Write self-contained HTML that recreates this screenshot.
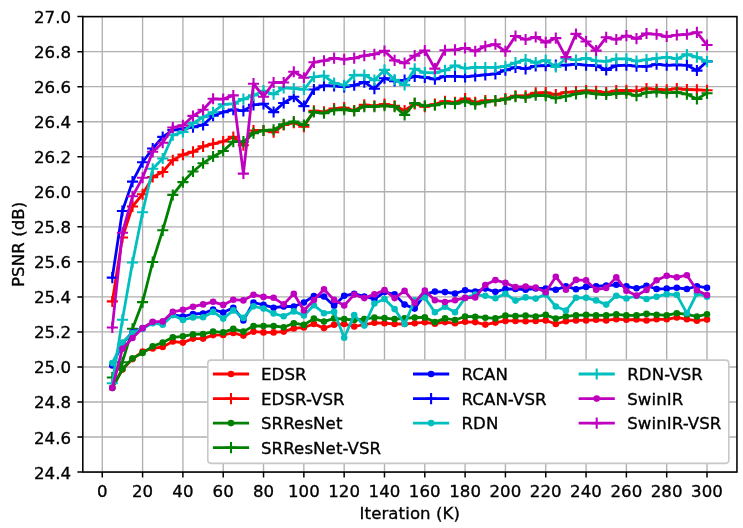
<!DOCTYPE html><html><head><meta charset="utf-8"><title>PSNR vs Iteration</title><style>html,body{margin:0;padding:0;background:#fff;overflow:hidden}svg{display:block}text{font-family:"DejaVu Sans","Liberation Sans",sans-serif;font-size:16.600px;fill:#000;stroke:#000;stroke-width:0.33px;letter-spacing:0.08px}</style></head><body>
<svg width="743" height="528" viewBox="0 0 743 528">
<rect width="743" height="528" fill="#fff"/>
<path d="M102.27 16.60V472.05M142.59 16.60V472.05M182.90 16.60V472.05M223.22 16.60V472.05M263.53 16.60V472.05M303.85 16.60V472.05M344.17 16.60V472.05M384.48 16.60V472.05M424.80 16.60V472.05M465.11 16.60V472.05M505.43 16.60V472.05M545.75 16.60V472.05M586.06 16.60V472.05M626.38 16.60V472.05M666.69 16.60V472.05M707.01 16.60V472.05M82.80 472.05H736.95M82.80 437.02H736.95M82.80 401.98H736.95M82.80 366.95H736.95M82.80 331.91H736.95M82.80 296.88H736.95M82.80 261.84H736.95M82.80 226.81H736.95M82.80 191.77H736.95M82.80 156.74H736.95M82.80 121.70H736.95M82.80 86.67H736.95M82.80 51.63H736.95M82.80 16.60H736.95" stroke="#b0b0b0" stroke-width="1.35" fill="none"/>
<g fill="none" stroke-linejoin="round" stroke-linecap="square">
<polyline stroke="#ff0000" stroke-width="2.78" points="112.3,387.6 122.4,369.6 132.5,359.1 142.6,351.5 152.7,348.4 162.7,347.0 172.8,341.5 182.9,342.6 193.0,338.6 203.1,338.6 213.1,335.1 223.2,334.9 233.3,333.0 243.4,335.6 253.5,331.6 263.5,332.4 273.6,332.4 283.7,331.6 293.8,328.4 303.9,327.5 313.9,323.9 324.0,328.1 334.1,324.7 344.2,324.0 354.2,326.5 364.3,324.7 374.4,322.8 384.5,323.2 394.6,324.0 404.6,324.0 414.7,323.2 424.8,322.3 434.9,323.7 445.0,322.1 455.0,323.3 465.1,321.8 475.2,322.1 485.3,324.6 495.4,322.6 505.4,320.9 515.5,320.9 525.6,321.2 535.7,320.9 545.7,320.4 555.8,324.0 565.9,321.1 576.0,320.4 586.1,320.4 596.1,319.8 606.2,320.4 616.3,319.1 626.4,319.8 636.5,319.5 646.5,320.5 656.6,319.3 666.7,319.3 676.8,317.4 686.9,319.3 696.9,320.7 707.0,319.6"/>
<path fill="#ff0000" stroke="none" d="M109.0 387.6a3.30 3.30 0 1 0 6.60 0a3.30 3.30 0 1 0 -6.60 0zM119.1 369.6a3.30 3.30 0 1 0 6.60 0a3.30 3.30 0 1 0 -6.60 0zM129.2 359.1a3.30 3.30 0 1 0 6.60 0a3.30 3.30 0 1 0 -6.60 0zM139.3 351.5a3.30 3.30 0 1 0 6.60 0a3.30 3.30 0 1 0 -6.60 0zM149.4 348.4a3.30 3.30 0 1 0 6.60 0a3.30 3.30 0 1 0 -6.60 0zM159.4 347.0a3.30 3.30 0 1 0 6.60 0a3.30 3.30 0 1 0 -6.60 0zM169.5 341.5a3.30 3.30 0 1 0 6.60 0a3.30 3.30 0 1 0 -6.60 0zM179.6 342.6a3.30 3.30 0 1 0 6.60 0a3.30 3.30 0 1 0 -6.60 0zM189.7 338.6a3.30 3.30 0 1 0 6.60 0a3.30 3.30 0 1 0 -6.60 0zM199.8 338.6a3.30 3.30 0 1 0 6.60 0a3.30 3.30 0 1 0 -6.60 0zM209.8 335.1a3.30 3.30 0 1 0 6.60 0a3.30 3.30 0 1 0 -6.60 0zM219.9 334.9a3.30 3.30 0 1 0 6.60 0a3.30 3.30 0 1 0 -6.60 0zM230.0 333.0a3.30 3.30 0 1 0 6.60 0a3.30 3.30 0 1 0 -6.60 0zM240.1 335.6a3.30 3.30 0 1 0 6.60 0a3.30 3.30 0 1 0 -6.60 0zM250.2 331.6a3.30 3.30 0 1 0 6.60 0a3.30 3.30 0 1 0 -6.60 0zM260.2 332.4a3.30 3.30 0 1 0 6.60 0a3.30 3.30 0 1 0 -6.60 0zM270.3 332.4a3.30 3.30 0 1 0 6.60 0a3.30 3.30 0 1 0 -6.60 0zM280.4 331.6a3.30 3.30 0 1 0 6.60 0a3.30 3.30 0 1 0 -6.60 0zM290.5 328.4a3.30 3.30 0 1 0 6.60 0a3.30 3.30 0 1 0 -6.60 0zM300.6 327.5a3.30 3.30 0 1 0 6.60 0a3.30 3.30 0 1 0 -6.60 0zM310.6 323.9a3.30 3.30 0 1 0 6.60 0a3.30 3.30 0 1 0 -6.60 0zM320.7 328.1a3.30 3.30 0 1 0 6.60 0a3.30 3.30 0 1 0 -6.60 0zM330.8 324.7a3.30 3.30 0 1 0 6.60 0a3.30 3.30 0 1 0 -6.60 0zM340.9 324.0a3.30 3.30 0 1 0 6.60 0a3.30 3.30 0 1 0 -6.60 0zM350.9 326.5a3.30 3.30 0 1 0 6.60 0a3.30 3.30 0 1 0 -6.60 0zM361.0 324.7a3.30 3.30 0 1 0 6.60 0a3.30 3.30 0 1 0 -6.60 0zM371.1 322.8a3.30 3.30 0 1 0 6.60 0a3.30 3.30 0 1 0 -6.60 0zM381.2 323.2a3.30 3.30 0 1 0 6.60 0a3.30 3.30 0 1 0 -6.60 0zM391.3 324.0a3.30 3.30 0 1 0 6.60 0a3.30 3.30 0 1 0 -6.60 0zM401.3 324.0a3.30 3.30 0 1 0 6.60 0a3.30 3.30 0 1 0 -6.60 0zM411.4 323.2a3.30 3.30 0 1 0 6.60 0a3.30 3.30 0 1 0 -6.60 0zM421.5 322.3a3.30 3.30 0 1 0 6.60 0a3.30 3.30 0 1 0 -6.60 0zM431.6 323.7a3.30 3.30 0 1 0 6.60 0a3.30 3.30 0 1 0 -6.60 0zM441.7 322.1a3.30 3.30 0 1 0 6.60 0a3.30 3.30 0 1 0 -6.60 0zM451.7 323.3a3.30 3.30 0 1 0 6.60 0a3.30 3.30 0 1 0 -6.60 0zM461.8 321.8a3.30 3.30 0 1 0 6.60 0a3.30 3.30 0 1 0 -6.60 0zM471.9 322.1a3.30 3.30 0 1 0 6.60 0a3.30 3.30 0 1 0 -6.60 0zM482.0 324.6a3.30 3.30 0 1 0 6.60 0a3.30 3.30 0 1 0 -6.60 0zM492.1 322.6a3.30 3.30 0 1 0 6.60 0a3.30 3.30 0 1 0 -6.60 0zM502.1 320.9a3.30 3.30 0 1 0 6.60 0a3.30 3.30 0 1 0 -6.60 0zM512.2 320.9a3.30 3.30 0 1 0 6.60 0a3.30 3.30 0 1 0 -6.60 0zM522.3 321.2a3.30 3.30 0 1 0 6.60 0a3.30 3.30 0 1 0 -6.60 0zM532.4 320.9a3.30 3.30 0 1 0 6.60 0a3.30 3.30 0 1 0 -6.60 0zM542.4 320.4a3.30 3.30 0 1 0 6.60 0a3.30 3.30 0 1 0 -6.60 0zM552.5 324.0a3.30 3.30 0 1 0 6.60 0a3.30 3.30 0 1 0 -6.60 0zM562.6 321.1a3.30 3.30 0 1 0 6.60 0a3.30 3.30 0 1 0 -6.60 0zM572.7 320.4a3.30 3.30 0 1 0 6.60 0a3.30 3.30 0 1 0 -6.60 0zM582.8 320.4a3.30 3.30 0 1 0 6.60 0a3.30 3.30 0 1 0 -6.60 0zM592.8 319.8a3.30 3.30 0 1 0 6.60 0a3.30 3.30 0 1 0 -6.60 0zM602.9 320.4a3.30 3.30 0 1 0 6.60 0a3.30 3.30 0 1 0 -6.60 0zM613.0 319.1a3.30 3.30 0 1 0 6.60 0a3.30 3.30 0 1 0 -6.60 0zM623.1 319.8a3.30 3.30 0 1 0 6.60 0a3.30 3.30 0 1 0 -6.60 0zM633.2 319.5a3.30 3.30 0 1 0 6.60 0a3.30 3.30 0 1 0 -6.60 0zM643.2 320.5a3.30 3.30 0 1 0 6.60 0a3.30 3.30 0 1 0 -6.60 0zM653.3 319.3a3.30 3.30 0 1 0 6.60 0a3.30 3.30 0 1 0 -6.60 0zM663.4 319.3a3.30 3.30 0 1 0 6.60 0a3.30 3.30 0 1 0 -6.60 0zM673.5 317.4a3.30 3.30 0 1 0 6.60 0a3.30 3.30 0 1 0 -6.60 0zM683.6 319.3a3.30 3.30 0 1 0 6.60 0a3.30 3.30 0 1 0 -6.60 0zM693.6 320.7a3.30 3.30 0 1 0 6.60 0a3.30 3.30 0 1 0 -6.60 0zM703.7 319.6a3.30 3.30 0 1 0 6.60 0a3.30 3.30 0 1 0 -6.60 0z"/>
<polyline stroke="#ff0000" stroke-width="2.78" points="112.3,301.4 122.4,237.5 132.5,206.5 142.6,194.2 152.7,177.1 162.7,172.0 172.8,160.2 182.9,154.6 193.0,151.8 203.1,146.4 213.1,143.8 223.2,141.5 233.3,136.9 243.4,145.2 253.5,130.5 263.5,130.5 273.6,132.2 283.7,125.0 293.8,122.8 303.9,126.8 313.9,110.8 324.0,111.9 334.1,108.6 344.2,107.7 354.2,110.5 364.3,104.9 374.4,105.8 384.5,104.2 394.6,105.8 404.6,110.5 414.7,103.8 424.8,106.6 434.9,104.2 445.0,101.4 455.0,102.3 465.1,98.6 475.2,102.3 485.3,100.5 495.4,101.0 505.4,98.6 515.5,95.8 525.6,95.8 535.7,92.8 545.7,92.6 555.8,94.6 565.9,92.3 576.0,91.6 586.1,90.7 596.1,91.2 606.2,92.6 616.3,90.7 626.4,90.3 636.5,91.0 646.5,88.6 656.6,89.3 666.7,89.8 676.8,88.6 686.9,89.5 696.9,89.8 707.0,90.3"/>
<path stroke="#ff0000" stroke-width="2.08" stroke-linecap="butt" d="M106.8 301.4h11.10M112.3 295.9v11.10M116.9 237.5h11.10M122.4 231.9v11.10M127.0 206.5h11.10M132.5 200.9v11.10M137.0 194.2h11.10M142.6 188.7v11.10M147.1 177.1h11.10M152.7 171.5v11.10M157.2 172.0h11.10M162.7 166.4v11.10M167.3 160.2h11.10M172.8 154.7v11.10M177.4 154.6h11.10M182.9 149.1v11.10M187.4 151.8h11.10M193.0 146.3v11.10M197.5 146.4h11.10M203.1 140.9v11.10M207.6 143.8h11.10M213.1 138.2v11.10M217.7 141.5h11.10M223.2 135.9v11.10M227.7 136.9h11.10M233.3 131.4v11.10M237.8 145.2h11.10M243.4 139.6v11.10M247.9 130.5h11.10M253.5 124.9v11.10M258.0 130.5h11.10M263.5 124.9v11.10M268.1 132.2h11.10M273.6 126.7v11.10M278.1 125.0h11.10M283.7 119.5v11.10M288.2 122.8h11.10M293.8 117.2v11.10M298.3 126.8h11.10M303.9 121.2v11.10M308.4 110.8h11.10M313.9 105.3v11.10M318.5 111.9h11.10M324.0 106.3v11.10M328.5 108.6h11.10M334.1 103.0v11.10M338.6 107.7h11.10M344.2 102.1v11.10M348.7 110.5h11.10M354.2 104.9v11.10M358.8 104.9h11.10M364.3 99.3v11.10M368.9 105.8h11.10M374.4 100.2v11.10M378.9 104.2h11.10M384.5 98.6v11.10M389.0 105.8h11.10M394.6 100.2v11.10M399.1 110.5h11.10M404.6 104.9v11.10M409.2 103.8h11.10M414.7 98.3v11.10M419.2 106.6h11.10M424.8 101.1v11.10M429.3 104.2h11.10M434.9 98.6v11.10M439.4 101.4h11.10M445.0 95.8v11.10M449.5 102.3h11.10M455.0 96.7v11.10M459.6 98.6h11.10M465.1 93.0v11.10M469.6 102.3h11.10M475.2 96.7v11.10M479.7 100.5h11.10M485.3 95.0v11.10M489.8 101.0h11.10M495.4 95.5v11.10M499.9 98.6h11.10M505.4 93.0v11.10M510.0 95.8h11.10M515.5 90.2v11.10M520.0 95.8h11.10M525.6 90.2v11.10M530.1 92.8h11.10M535.7 87.3v11.10M540.2 92.6h11.10M545.7 87.1v11.10M550.3 94.6h11.10M555.8 89.0v11.10M560.4 92.3h11.10M565.9 86.7v11.10M570.4 91.6h11.10M576.0 86.0v11.10M580.5 90.7h11.10M586.1 85.1v11.10M590.6 91.2h11.10M596.1 85.7v11.10M600.7 92.6h11.10M606.2 87.1v11.10M610.7 90.7h11.10M616.3 85.1v11.10M620.8 90.3h11.10M626.4 84.8v11.10M630.9 91.0h11.10M636.5 85.5v11.10M641.0 88.6h11.10M646.5 83.0v11.10M651.1 89.3h11.10M656.6 83.7v11.10M661.1 89.8h11.10M666.7 84.3v11.10M671.2 88.6h11.10M676.8 83.0v11.10M681.3 89.5h11.10M686.9 83.9v11.10M691.4 89.8h11.10M696.9 84.3v11.10M701.5 90.3h11.10M707.0 84.8v11.10"/>
<polyline stroke="#008000" stroke-width="2.78" points="112.3,388.0 122.4,369.0 132.5,358.4 142.6,352.9 152.7,346.3 162.7,342.6 172.8,337.3 182.9,336.3 193.0,334.4 203.1,334.0 213.1,331.6 223.2,332.4 233.3,328.9 243.4,331.6 253.5,326.0 263.5,326.0 273.6,326.0 283.7,327.2 293.8,323.2 303.9,324.9 313.9,318.6 324.0,321.6 334.1,318.4 344.2,319.1 354.2,320.0 364.3,319.1 374.4,317.5 384.5,318.1 394.6,319.1 404.6,318.4 414.7,317.5 424.8,317.4 434.9,322.1 445.0,318.4 455.0,320.0 465.1,316.5 475.2,316.7 485.3,317.7 495.4,318.4 505.4,315.6 515.5,316.1 525.6,315.6 535.7,316.5 545.7,314.9 555.8,318.6 565.9,316.3 576.0,315.4 586.1,314.9 596.1,315.4 606.2,315.4 616.3,314.4 626.4,315.4 636.5,315.4 646.5,313.9 656.6,314.7 666.7,315.3 676.8,313.2 686.9,314.4 696.9,316.5 707.0,314.2"/>
<path fill="#008000" stroke="none" d="M109.0 388.0a3.30 3.30 0 1 0 6.60 0a3.30 3.30 0 1 0 -6.60 0zM119.1 369.0a3.30 3.30 0 1 0 6.60 0a3.30 3.30 0 1 0 -6.60 0zM129.2 358.4a3.30 3.30 0 1 0 6.60 0a3.30 3.30 0 1 0 -6.60 0zM139.3 352.9a3.30 3.30 0 1 0 6.60 0a3.30 3.30 0 1 0 -6.60 0zM149.4 346.3a3.30 3.30 0 1 0 6.60 0a3.30 3.30 0 1 0 -6.60 0zM159.4 342.6a3.30 3.30 0 1 0 6.60 0a3.30 3.30 0 1 0 -6.60 0zM169.5 337.3a3.30 3.30 0 1 0 6.60 0a3.30 3.30 0 1 0 -6.60 0zM179.6 336.3a3.30 3.30 0 1 0 6.60 0a3.30 3.30 0 1 0 -6.60 0zM189.7 334.4a3.30 3.30 0 1 0 6.60 0a3.30 3.30 0 1 0 -6.60 0zM199.8 334.0a3.30 3.30 0 1 0 6.60 0a3.30 3.30 0 1 0 -6.60 0zM209.8 331.6a3.30 3.30 0 1 0 6.60 0a3.30 3.30 0 1 0 -6.60 0zM219.9 332.4a3.30 3.30 0 1 0 6.60 0a3.30 3.30 0 1 0 -6.60 0zM230.0 328.9a3.30 3.30 0 1 0 6.60 0a3.30 3.30 0 1 0 -6.60 0zM240.1 331.6a3.30 3.30 0 1 0 6.60 0a3.30 3.30 0 1 0 -6.60 0zM250.2 326.0a3.30 3.30 0 1 0 6.60 0a3.30 3.30 0 1 0 -6.60 0zM260.2 326.0a3.30 3.30 0 1 0 6.60 0a3.30 3.30 0 1 0 -6.60 0zM270.3 326.0a3.30 3.30 0 1 0 6.60 0a3.30 3.30 0 1 0 -6.60 0zM280.4 327.2a3.30 3.30 0 1 0 6.60 0a3.30 3.30 0 1 0 -6.60 0zM290.5 323.2a3.30 3.30 0 1 0 6.60 0a3.30 3.30 0 1 0 -6.60 0zM300.6 324.9a3.30 3.30 0 1 0 6.60 0a3.30 3.30 0 1 0 -6.60 0zM310.6 318.6a3.30 3.30 0 1 0 6.60 0a3.30 3.30 0 1 0 -6.60 0zM320.7 321.6a3.30 3.30 0 1 0 6.60 0a3.30 3.30 0 1 0 -6.60 0zM330.8 318.4a3.30 3.30 0 1 0 6.60 0a3.30 3.30 0 1 0 -6.60 0zM340.9 319.1a3.30 3.30 0 1 0 6.60 0a3.30 3.30 0 1 0 -6.60 0zM350.9 320.0a3.30 3.30 0 1 0 6.60 0a3.30 3.30 0 1 0 -6.60 0zM361.0 319.1a3.30 3.30 0 1 0 6.60 0a3.30 3.30 0 1 0 -6.60 0zM371.1 317.5a3.30 3.30 0 1 0 6.60 0a3.30 3.30 0 1 0 -6.60 0zM381.2 318.1a3.30 3.30 0 1 0 6.60 0a3.30 3.30 0 1 0 -6.60 0zM391.3 319.1a3.30 3.30 0 1 0 6.60 0a3.30 3.30 0 1 0 -6.60 0zM401.3 318.4a3.30 3.30 0 1 0 6.60 0a3.30 3.30 0 1 0 -6.60 0zM411.4 317.5a3.30 3.30 0 1 0 6.60 0a3.30 3.30 0 1 0 -6.60 0zM421.5 317.4a3.30 3.30 0 1 0 6.60 0a3.30 3.30 0 1 0 -6.60 0zM431.6 322.1a3.30 3.30 0 1 0 6.60 0a3.30 3.30 0 1 0 -6.60 0zM441.7 318.4a3.30 3.30 0 1 0 6.60 0a3.30 3.30 0 1 0 -6.60 0zM451.7 320.0a3.30 3.30 0 1 0 6.60 0a3.30 3.30 0 1 0 -6.60 0zM461.8 316.5a3.30 3.30 0 1 0 6.60 0a3.30 3.30 0 1 0 -6.60 0zM471.9 316.7a3.30 3.30 0 1 0 6.60 0a3.30 3.30 0 1 0 -6.60 0zM482.0 317.7a3.30 3.30 0 1 0 6.60 0a3.30 3.30 0 1 0 -6.60 0zM492.1 318.4a3.30 3.30 0 1 0 6.60 0a3.30 3.30 0 1 0 -6.60 0zM502.1 315.6a3.30 3.30 0 1 0 6.60 0a3.30 3.30 0 1 0 -6.60 0zM512.2 316.1a3.30 3.30 0 1 0 6.60 0a3.30 3.30 0 1 0 -6.60 0zM522.3 315.6a3.30 3.30 0 1 0 6.60 0a3.30 3.30 0 1 0 -6.60 0zM532.4 316.5a3.30 3.30 0 1 0 6.60 0a3.30 3.30 0 1 0 -6.60 0zM542.4 314.9a3.30 3.30 0 1 0 6.60 0a3.30 3.30 0 1 0 -6.60 0zM552.5 318.6a3.30 3.30 0 1 0 6.60 0a3.30 3.30 0 1 0 -6.60 0zM562.6 316.3a3.30 3.30 0 1 0 6.60 0a3.30 3.30 0 1 0 -6.60 0zM572.7 315.4a3.30 3.30 0 1 0 6.60 0a3.30 3.30 0 1 0 -6.60 0zM582.8 314.9a3.30 3.30 0 1 0 6.60 0a3.30 3.30 0 1 0 -6.60 0zM592.8 315.4a3.30 3.30 0 1 0 6.60 0a3.30 3.30 0 1 0 -6.60 0zM602.9 315.4a3.30 3.30 0 1 0 6.60 0a3.30 3.30 0 1 0 -6.60 0zM613.0 314.4a3.30 3.30 0 1 0 6.60 0a3.30 3.30 0 1 0 -6.60 0zM623.1 315.4a3.30 3.30 0 1 0 6.60 0a3.30 3.30 0 1 0 -6.60 0zM633.2 315.4a3.30 3.30 0 1 0 6.60 0a3.30 3.30 0 1 0 -6.60 0zM643.2 313.9a3.30 3.30 0 1 0 6.60 0a3.30 3.30 0 1 0 -6.60 0zM653.3 314.7a3.30 3.30 0 1 0 6.60 0a3.30 3.30 0 1 0 -6.60 0zM663.4 315.3a3.30 3.30 0 1 0 6.60 0a3.30 3.30 0 1 0 -6.60 0zM673.5 313.2a3.30 3.30 0 1 0 6.60 0a3.30 3.30 0 1 0 -6.60 0zM683.6 314.4a3.30 3.30 0 1 0 6.60 0a3.30 3.30 0 1 0 -6.60 0zM693.6 316.5a3.30 3.30 0 1 0 6.60 0a3.30 3.30 0 1 0 -6.60 0zM703.7 314.2a3.30 3.30 0 1 0 6.60 0a3.30 3.30 0 1 0 -6.60 0z"/>
<polyline stroke="#008000" stroke-width="2.78" points="112.3,377.5 122.4,362.2 132.5,328.8 142.6,302.1 152.7,262.0 162.7,230.3 172.8,194.9 182.9,182.1 193.0,171.5 203.1,163.2 213.1,156.6 223.2,151.0 233.3,141.7 243.4,141.7 253.5,133.3 263.5,130.5 273.6,129.8 283.7,124.3 293.8,121.5 303.9,125.0 313.9,112.1 324.0,113.3 334.1,110.0 344.2,109.6 354.2,111.0 364.3,106.6 374.4,106.6 384.5,105.8 394.6,106.6 404.6,114.9 414.7,103.0 424.8,105.8 434.9,105.2 445.0,103.0 455.0,103.7 465.1,101.4 475.2,104.2 485.3,102.3 495.4,100.5 505.4,99.5 515.5,96.7 525.6,97.5 535.7,95.3 545.7,95.6 555.8,98.2 565.9,96.3 576.0,94.0 586.1,92.6 596.1,94.0 606.2,94.6 616.3,93.5 626.4,93.2 636.5,95.8 646.5,92.6 656.6,91.9 666.7,92.8 676.8,92.3 686.9,94.2 696.9,98.9 707.0,93.3"/>
<path stroke="#008000" stroke-width="2.08" stroke-linecap="butt" d="M106.8 377.5h11.10M112.3 371.9v11.10M116.9 362.2h11.10M122.4 356.7v11.10M127.0 328.8h11.10M132.5 323.2v11.10M137.0 302.1h11.10M142.6 296.6v11.10M147.1 262.0h11.10M152.7 256.5v11.10M157.2 230.3h11.10M162.7 224.8v11.10M167.3 194.9h11.10M172.8 189.4v11.10M177.4 182.1h11.10M182.9 176.6v11.10M187.4 171.5h11.10M193.0 165.9v11.10M197.5 163.2h11.10M203.1 157.7v11.10M207.6 156.6h11.10M213.1 151.0v11.10M217.7 151.0h11.10M223.2 145.4v11.10M227.7 141.7h11.10M233.3 136.1v11.10M237.8 141.7h11.10M243.4 136.1v11.10M247.9 133.3h11.10M253.5 127.7v11.10M258.0 130.5h11.10M263.5 124.9v11.10M268.1 129.8h11.10M273.6 124.2v11.10M278.1 124.3h11.10M283.7 118.8v11.10M288.2 121.5h11.10M293.8 116.0v11.10M298.3 125.0h11.10M303.9 119.5v11.10M308.4 112.1h11.10M313.9 106.5v11.10M318.5 113.3h11.10M324.0 107.7v11.10M328.5 110.0h11.10M334.1 104.4v11.10M338.6 109.6h11.10M344.2 104.1v11.10M348.7 111.0h11.10M354.2 105.5v11.10M358.8 106.6h11.10M364.3 101.1v11.10M368.9 106.6h11.10M374.4 101.1v11.10M378.9 105.8h11.10M384.5 100.2v11.10M389.0 106.6h11.10M394.6 101.1v11.10M399.1 114.9h11.10M404.6 109.3v11.10M409.2 103.0h11.10M414.7 97.4v11.10M419.2 105.8h11.10M424.8 100.2v11.10M429.3 105.2h11.10M434.9 99.7v11.10M439.4 103.0h11.10M445.0 97.4v11.10M449.5 103.7h11.10M455.0 98.1v11.10M459.6 101.4h11.10M465.1 95.8v11.10M469.6 104.2h11.10M475.2 98.6v11.10M479.7 102.3h11.10M485.3 96.7v11.10M489.8 100.5h11.10M495.4 95.0v11.10M499.9 99.5h11.10M505.4 93.9v11.10M510.0 96.7h11.10M515.5 91.1v11.10M520.0 97.5h11.10M525.6 92.0v11.10M530.1 95.3h11.10M535.7 89.7v11.10M540.2 95.6h11.10M545.7 90.1v11.10M550.3 98.2h11.10M555.8 92.7v11.10M560.4 96.3h11.10M565.9 90.8v11.10M570.4 94.0h11.10M576.0 88.5v11.10M580.5 92.6h11.10M586.1 87.1v11.10M590.6 94.0h11.10M596.1 88.5v11.10M600.7 94.6h11.10M606.2 89.0v11.10M610.7 93.5h11.10M616.3 88.0v11.10M620.8 93.2h11.10M626.4 87.6v11.10M630.9 95.8h11.10M636.5 90.2v11.10M641.0 92.6h11.10M646.5 87.1v11.10M651.1 91.9h11.10M656.6 86.4v11.10M661.1 92.8h11.10M666.7 87.3v11.10M671.2 92.3h11.10M676.8 86.7v11.10M681.3 94.2h11.10M686.9 88.7v11.10M691.4 98.9h11.10M696.9 93.4v11.10M701.5 93.3h11.10M707.0 87.8v11.10"/>
<polyline stroke="#0000ff" stroke-width="2.78" points="112.3,365.5 122.4,343.3 132.5,332.3 142.6,328.4 152.7,322.3 162.7,323.2 172.8,314.7 182.9,316.5 193.0,314.0 203.1,313.5 213.1,309.5 223.2,312.6 233.3,307.7 243.4,320.4 253.5,302.5 263.5,304.9 273.6,307.7 283.7,306.5 293.8,306.5 303.9,302.5 313.9,296.0 324.0,296.5 334.1,305.8 344.2,295.8 354.2,293.7 364.3,296.5 374.4,299.0 384.5,292.1 394.6,294.4 404.6,304.6 414.7,308.6 424.8,294.2 434.9,291.6 445.0,292.1 455.0,293.5 465.1,290.2 475.2,291.6 485.3,288.6 495.4,291.8 505.4,289.0 515.5,289.0 525.6,289.7 535.7,288.5 545.7,288.5 555.8,289.7 565.9,286.4 576.0,289.2 586.1,286.9 596.1,286.4 606.2,285.5 616.3,284.8 626.4,286.4 636.5,288.3 646.5,285.7 656.6,289.0 666.7,288.6 676.8,287.8 686.9,289.0 696.9,286.2 707.0,287.8"/>
<path fill="#0000ff" stroke="none" d="M109.0 365.5a3.30 3.30 0 1 0 6.60 0a3.30 3.30 0 1 0 -6.60 0zM119.1 343.3a3.30 3.30 0 1 0 6.60 0a3.30 3.30 0 1 0 -6.60 0zM129.2 332.3a3.30 3.30 0 1 0 6.60 0a3.30 3.30 0 1 0 -6.60 0zM139.3 328.4a3.30 3.30 0 1 0 6.60 0a3.30 3.30 0 1 0 -6.60 0zM149.4 322.3a3.30 3.30 0 1 0 6.60 0a3.30 3.30 0 1 0 -6.60 0zM159.4 323.2a3.30 3.30 0 1 0 6.60 0a3.30 3.30 0 1 0 -6.60 0zM169.5 314.7a3.30 3.30 0 1 0 6.60 0a3.30 3.30 0 1 0 -6.60 0zM179.6 316.5a3.30 3.30 0 1 0 6.60 0a3.30 3.30 0 1 0 -6.60 0zM189.7 314.0a3.30 3.30 0 1 0 6.60 0a3.30 3.30 0 1 0 -6.60 0zM199.8 313.5a3.30 3.30 0 1 0 6.60 0a3.30 3.30 0 1 0 -6.60 0zM209.8 309.5a3.30 3.30 0 1 0 6.60 0a3.30 3.30 0 1 0 -6.60 0zM219.9 312.6a3.30 3.30 0 1 0 6.60 0a3.30 3.30 0 1 0 -6.60 0zM230.0 307.7a3.30 3.30 0 1 0 6.60 0a3.30 3.30 0 1 0 -6.60 0zM240.1 320.4a3.30 3.30 0 1 0 6.60 0a3.30 3.30 0 1 0 -6.60 0zM250.2 302.5a3.30 3.30 0 1 0 6.60 0a3.30 3.30 0 1 0 -6.60 0zM260.2 304.9a3.30 3.30 0 1 0 6.60 0a3.30 3.30 0 1 0 -6.60 0zM270.3 307.7a3.30 3.30 0 1 0 6.60 0a3.30 3.30 0 1 0 -6.60 0zM280.4 306.5a3.30 3.30 0 1 0 6.60 0a3.30 3.30 0 1 0 -6.60 0zM290.5 306.5a3.30 3.30 0 1 0 6.60 0a3.30 3.30 0 1 0 -6.60 0zM300.6 302.5a3.30 3.30 0 1 0 6.60 0a3.30 3.30 0 1 0 -6.60 0zM310.6 296.0a3.30 3.30 0 1 0 6.60 0a3.30 3.30 0 1 0 -6.60 0zM320.7 296.5a3.30 3.30 0 1 0 6.60 0a3.30 3.30 0 1 0 -6.60 0zM330.8 305.8a3.30 3.30 0 1 0 6.60 0a3.30 3.30 0 1 0 -6.60 0zM340.9 295.8a3.30 3.30 0 1 0 6.60 0a3.30 3.30 0 1 0 -6.60 0zM350.9 293.7a3.30 3.30 0 1 0 6.60 0a3.30 3.30 0 1 0 -6.60 0zM361.0 296.5a3.30 3.30 0 1 0 6.60 0a3.30 3.30 0 1 0 -6.60 0zM371.1 299.0a3.30 3.30 0 1 0 6.60 0a3.30 3.30 0 1 0 -6.60 0zM381.2 292.1a3.30 3.30 0 1 0 6.60 0a3.30 3.30 0 1 0 -6.60 0zM391.3 294.4a3.30 3.30 0 1 0 6.60 0a3.30 3.30 0 1 0 -6.60 0zM401.3 304.6a3.30 3.30 0 1 0 6.60 0a3.30 3.30 0 1 0 -6.60 0zM411.4 308.6a3.30 3.30 0 1 0 6.60 0a3.30 3.30 0 1 0 -6.60 0zM421.5 294.2a3.30 3.30 0 1 0 6.60 0a3.30 3.30 0 1 0 -6.60 0zM431.6 291.6a3.30 3.30 0 1 0 6.60 0a3.30 3.30 0 1 0 -6.60 0zM441.7 292.1a3.30 3.30 0 1 0 6.60 0a3.30 3.30 0 1 0 -6.60 0zM451.7 293.5a3.30 3.30 0 1 0 6.60 0a3.30 3.30 0 1 0 -6.60 0zM461.8 290.2a3.30 3.30 0 1 0 6.60 0a3.30 3.30 0 1 0 -6.60 0zM471.9 291.6a3.30 3.30 0 1 0 6.60 0a3.30 3.30 0 1 0 -6.60 0zM482.0 288.6a3.30 3.30 0 1 0 6.60 0a3.30 3.30 0 1 0 -6.60 0zM492.1 291.8a3.30 3.30 0 1 0 6.60 0a3.30 3.30 0 1 0 -6.60 0zM502.1 289.0a3.30 3.30 0 1 0 6.60 0a3.30 3.30 0 1 0 -6.60 0zM512.2 289.0a3.30 3.30 0 1 0 6.60 0a3.30 3.30 0 1 0 -6.60 0zM522.3 289.7a3.30 3.30 0 1 0 6.60 0a3.30 3.30 0 1 0 -6.60 0zM532.4 288.5a3.30 3.30 0 1 0 6.60 0a3.30 3.30 0 1 0 -6.60 0zM542.4 288.5a3.30 3.30 0 1 0 6.60 0a3.30 3.30 0 1 0 -6.60 0zM552.5 289.7a3.30 3.30 0 1 0 6.60 0a3.30 3.30 0 1 0 -6.60 0zM562.6 286.4a3.30 3.30 0 1 0 6.60 0a3.30 3.30 0 1 0 -6.60 0zM572.7 289.2a3.30 3.30 0 1 0 6.60 0a3.30 3.30 0 1 0 -6.60 0zM582.8 286.9a3.30 3.30 0 1 0 6.60 0a3.30 3.30 0 1 0 -6.60 0zM592.8 286.4a3.30 3.30 0 1 0 6.60 0a3.30 3.30 0 1 0 -6.60 0zM602.9 285.5a3.30 3.30 0 1 0 6.60 0a3.30 3.30 0 1 0 -6.60 0zM613.0 284.8a3.30 3.30 0 1 0 6.60 0a3.30 3.30 0 1 0 -6.60 0zM623.1 286.4a3.30 3.30 0 1 0 6.60 0a3.30 3.30 0 1 0 -6.60 0zM633.2 288.3a3.30 3.30 0 1 0 6.60 0a3.30 3.30 0 1 0 -6.60 0zM643.2 285.7a3.30 3.30 0 1 0 6.60 0a3.30 3.30 0 1 0 -6.60 0zM653.3 289.0a3.30 3.30 0 1 0 6.60 0a3.30 3.30 0 1 0 -6.60 0zM663.4 288.6a3.30 3.30 0 1 0 6.60 0a3.30 3.30 0 1 0 -6.60 0zM673.5 287.8a3.30 3.30 0 1 0 6.60 0a3.30 3.30 0 1 0 -6.60 0zM683.6 289.0a3.30 3.30 0 1 0 6.60 0a3.30 3.30 0 1 0 -6.60 0zM693.6 286.2a3.30 3.30 0 1 0 6.60 0a3.30 3.30 0 1 0 -6.60 0zM703.7 287.8a3.30 3.30 0 1 0 6.60 0a3.30 3.30 0 1 0 -6.60 0z"/>
<polyline stroke="#0000ff" stroke-width="2.78" points="112.3,277.6 122.4,211.0 132.5,181.6 142.6,162.2 152.7,148.5 162.7,136.9 172.8,130.1 182.9,128.7 193.0,127.1 203.1,124.9 213.1,115.7 223.2,112.2 233.3,109.6 243.4,110.8 253.5,104.9 263.5,103.8 273.6,112.1 283.7,103.0 293.8,96.7 303.9,106.1 313.9,89.5 324.0,85.6 334.1,86.0 344.2,86.8 354.2,85.3 364.3,82.1 374.4,88.8 384.5,78.3 394.6,81.1 404.6,80.2 414.7,76.3 424.8,77.4 434.9,79.1 445.0,76.3 455.0,76.3 465.1,76.9 475.2,75.8 485.3,74.9 495.4,73.9 505.4,70.2 515.5,67.4 525.6,68.8 535.7,66.0 545.7,65.6 555.8,65.1 565.9,65.1 576.0,64.2 586.1,65.1 596.1,65.6 606.2,69.9 616.3,65.6 626.4,65.1 636.5,66.2 646.5,66.5 656.6,64.2 666.7,65.3 676.8,64.9 686.9,65.3 696.9,70.6 707.0,61.4"/>
<path stroke="#0000ff" stroke-width="2.08" stroke-linecap="butt" d="M106.8 277.6h11.10M112.3 272.1v11.10M116.9 211.0h11.10M122.4 205.5v11.10M127.0 181.6h11.10M132.5 176.1v11.10M137.0 162.2h11.10M142.6 156.6v11.10M147.1 148.5h11.10M152.7 143.0v11.10M157.2 136.9h11.10M162.7 131.4v11.10M167.3 130.1h11.10M172.8 124.6v11.10M177.4 128.7h11.10M182.9 123.2v11.10M187.4 127.1h11.10M193.0 121.6v11.10M197.5 124.9h11.10M203.1 119.3v11.10M207.6 115.7h11.10M213.1 110.2v11.10M217.7 112.2h11.10M223.2 106.7v11.10M227.7 109.6h11.10M233.3 104.1v11.10M237.8 110.8h11.10M243.4 105.3v11.10M247.9 104.9h11.10M253.5 99.3v11.10M258.0 103.8h11.10M263.5 98.3v11.10M268.1 112.1h11.10M273.6 106.5v11.10M278.1 103.0h11.10M283.7 97.4v11.10M288.2 96.7h11.10M293.8 91.1v11.10M298.3 106.1h11.10M303.9 100.6v11.10M308.4 89.5h11.10M313.9 83.9v11.10M318.5 85.6h11.10M324.0 80.1v11.10M328.5 86.0h11.10M334.1 80.4v11.10M338.6 86.8h11.10M344.2 81.3v11.10M348.7 85.3h11.10M354.2 79.7v11.10M358.8 82.1h11.10M364.3 76.6v11.10M368.9 88.8h11.10M374.4 83.2v11.10M378.9 78.3h11.10M384.5 72.7v11.10M389.0 81.1h11.10M394.6 75.5v11.10M399.1 80.2h11.10M404.6 74.6v11.10M409.2 76.3h11.10M414.7 70.8v11.10M419.2 77.4h11.10M424.8 71.8v11.10M429.3 79.1h11.10M434.9 73.6v11.10M439.4 76.3h11.10M445.0 70.8v11.10M449.5 76.3h11.10M455.0 70.8v11.10M459.6 76.9h11.10M465.1 71.3v11.10M469.6 75.8h11.10M475.2 70.3v11.10M479.7 74.9h11.10M485.3 69.4v11.10M489.8 73.9h11.10M495.4 68.3v11.10M499.9 70.2h11.10M505.4 64.7v11.10M510.0 67.4h11.10M515.5 61.9v11.10M520.0 68.8h11.10M525.6 63.3v11.10M530.1 66.0h11.10M535.7 60.4v11.10M540.2 65.6h11.10M545.7 60.1v11.10M550.3 65.1h11.10M555.8 59.6v11.10M560.4 65.1h11.10M565.9 59.6v11.10M570.4 64.2h11.10M576.0 58.7v11.10M580.5 65.1h11.10M586.1 59.6v11.10M590.6 65.6h11.10M596.1 60.1v11.10M600.7 69.9h11.10M606.2 64.3v11.10M610.7 65.6h11.10M616.3 60.1v11.10M620.8 65.1h11.10M626.4 59.6v11.10M630.9 66.2h11.10M636.5 60.6v11.10M641.0 66.5h11.10M646.5 61.0v11.10M651.1 64.2h11.10M656.6 58.7v11.10M661.1 65.3h11.10M666.7 59.7v11.10M671.2 64.9h11.10M676.8 59.4v11.10M681.3 65.3h11.10M686.9 59.7v11.10M691.4 70.6h11.10M696.9 65.0v11.10M701.5 61.4h11.10M707.0 55.9v11.10"/>
<polyline stroke="#00bfbf" stroke-width="2.78" points="112.3,363.1 122.4,342.6 132.5,333.1 142.6,328.4 152.7,323.2 162.7,324.7 172.8,315.1 182.9,320.0 193.0,317.4 203.1,317.2 213.1,311.9 223.2,318.6 233.3,310.4 243.4,317.9 253.5,306.2 263.5,308.6 273.6,313.5 283.7,316.3 293.8,311.4 303.9,315.4 313.9,305.3 324.0,313.2 334.1,311.9 344.2,337.7 354.2,315.1 364.3,325.6 374.4,303.5 384.5,299.0 394.6,309.1 404.6,324.0 414.7,300.4 424.8,297.6 434.9,312.3 445.0,306.7 455.0,312.3 465.1,297.9 475.2,294.6 485.3,295.8 495.4,298.3 505.4,293.7 515.5,300.6 525.6,297.4 535.7,298.6 545.7,294.4 555.8,306.5 565.9,310.5 576.0,297.8 586.1,297.8 596.1,300.4 606.2,304.6 616.3,295.7 626.4,298.5 636.5,296.0 646.5,299.0 656.6,296.7 666.7,294.2 676.8,294.8 686.9,313.3 696.9,293.5 707.0,296.7"/>
<path fill="#00bfbf" stroke="none" d="M109.0 363.1a3.30 3.30 0 1 0 6.60 0a3.30 3.30 0 1 0 -6.60 0zM119.1 342.6a3.30 3.30 0 1 0 6.60 0a3.30 3.30 0 1 0 -6.60 0zM129.2 333.1a3.30 3.30 0 1 0 6.60 0a3.30 3.30 0 1 0 -6.60 0zM139.3 328.4a3.30 3.30 0 1 0 6.60 0a3.30 3.30 0 1 0 -6.60 0zM149.4 323.2a3.30 3.30 0 1 0 6.60 0a3.30 3.30 0 1 0 -6.60 0zM159.4 324.7a3.30 3.30 0 1 0 6.60 0a3.30 3.30 0 1 0 -6.60 0zM169.5 315.1a3.30 3.30 0 1 0 6.60 0a3.30 3.30 0 1 0 -6.60 0zM179.6 320.0a3.30 3.30 0 1 0 6.60 0a3.30 3.30 0 1 0 -6.60 0zM189.7 317.4a3.30 3.30 0 1 0 6.60 0a3.30 3.30 0 1 0 -6.60 0zM199.8 317.2a3.30 3.30 0 1 0 6.60 0a3.30 3.30 0 1 0 -6.60 0zM209.8 311.9a3.30 3.30 0 1 0 6.60 0a3.30 3.30 0 1 0 -6.60 0zM219.9 318.6a3.30 3.30 0 1 0 6.60 0a3.30 3.30 0 1 0 -6.60 0zM230.0 310.4a3.30 3.30 0 1 0 6.60 0a3.30 3.30 0 1 0 -6.60 0zM240.1 317.9a3.30 3.30 0 1 0 6.60 0a3.30 3.30 0 1 0 -6.60 0zM250.2 306.2a3.30 3.30 0 1 0 6.60 0a3.30 3.30 0 1 0 -6.60 0zM260.2 308.6a3.30 3.30 0 1 0 6.60 0a3.30 3.30 0 1 0 -6.60 0zM270.3 313.5a3.30 3.30 0 1 0 6.60 0a3.30 3.30 0 1 0 -6.60 0zM280.4 316.3a3.30 3.30 0 1 0 6.60 0a3.30 3.30 0 1 0 -6.60 0zM290.5 311.4a3.30 3.30 0 1 0 6.60 0a3.30 3.30 0 1 0 -6.60 0zM300.6 315.4a3.30 3.30 0 1 0 6.60 0a3.30 3.30 0 1 0 -6.60 0zM310.6 305.3a3.30 3.30 0 1 0 6.60 0a3.30 3.30 0 1 0 -6.60 0zM320.7 313.2a3.30 3.30 0 1 0 6.60 0a3.30 3.30 0 1 0 -6.60 0zM330.8 311.9a3.30 3.30 0 1 0 6.60 0a3.30 3.30 0 1 0 -6.60 0zM340.9 337.7a3.30 3.30 0 1 0 6.60 0a3.30 3.30 0 1 0 -6.60 0zM350.9 315.1a3.30 3.30 0 1 0 6.60 0a3.30 3.30 0 1 0 -6.60 0zM361.0 325.6a3.30 3.30 0 1 0 6.60 0a3.30 3.30 0 1 0 -6.60 0zM371.1 303.5a3.30 3.30 0 1 0 6.60 0a3.30 3.30 0 1 0 -6.60 0zM381.2 299.0a3.30 3.30 0 1 0 6.60 0a3.30 3.30 0 1 0 -6.60 0zM391.3 309.1a3.30 3.30 0 1 0 6.60 0a3.30 3.30 0 1 0 -6.60 0zM401.3 324.0a3.30 3.30 0 1 0 6.60 0a3.30 3.30 0 1 0 -6.60 0zM411.4 300.4a3.30 3.30 0 1 0 6.60 0a3.30 3.30 0 1 0 -6.60 0zM421.5 297.6a3.30 3.30 0 1 0 6.60 0a3.30 3.30 0 1 0 -6.60 0zM431.6 312.3a3.30 3.30 0 1 0 6.60 0a3.30 3.30 0 1 0 -6.60 0zM441.7 306.7a3.30 3.30 0 1 0 6.60 0a3.30 3.30 0 1 0 -6.60 0zM451.7 312.3a3.30 3.30 0 1 0 6.60 0a3.30 3.30 0 1 0 -6.60 0zM461.8 297.9a3.30 3.30 0 1 0 6.60 0a3.30 3.30 0 1 0 -6.60 0zM471.9 294.6a3.30 3.30 0 1 0 6.60 0a3.30 3.30 0 1 0 -6.60 0zM482.0 295.8a3.30 3.30 0 1 0 6.60 0a3.30 3.30 0 1 0 -6.60 0zM492.1 298.3a3.30 3.30 0 1 0 6.60 0a3.30 3.30 0 1 0 -6.60 0zM502.1 293.7a3.30 3.30 0 1 0 6.60 0a3.30 3.30 0 1 0 -6.60 0zM512.2 300.6a3.30 3.30 0 1 0 6.60 0a3.30 3.30 0 1 0 -6.60 0zM522.3 297.4a3.30 3.30 0 1 0 6.60 0a3.30 3.30 0 1 0 -6.60 0zM532.4 298.6a3.30 3.30 0 1 0 6.60 0a3.30 3.30 0 1 0 -6.60 0zM542.4 294.4a3.30 3.30 0 1 0 6.60 0a3.30 3.30 0 1 0 -6.60 0zM552.5 306.5a3.30 3.30 0 1 0 6.60 0a3.30 3.30 0 1 0 -6.60 0zM562.6 310.5a3.30 3.30 0 1 0 6.60 0a3.30 3.30 0 1 0 -6.60 0zM572.7 297.8a3.30 3.30 0 1 0 6.60 0a3.30 3.30 0 1 0 -6.60 0zM582.8 297.8a3.30 3.30 0 1 0 6.60 0a3.30 3.30 0 1 0 -6.60 0zM592.8 300.4a3.30 3.30 0 1 0 6.60 0a3.30 3.30 0 1 0 -6.60 0zM602.9 304.6a3.30 3.30 0 1 0 6.60 0a3.30 3.30 0 1 0 -6.60 0zM613.0 295.7a3.30 3.30 0 1 0 6.60 0a3.30 3.30 0 1 0 -6.60 0zM623.1 298.5a3.30 3.30 0 1 0 6.60 0a3.30 3.30 0 1 0 -6.60 0zM633.2 296.0a3.30 3.30 0 1 0 6.60 0a3.30 3.30 0 1 0 -6.60 0zM643.2 299.0a3.30 3.30 0 1 0 6.60 0a3.30 3.30 0 1 0 -6.60 0zM653.3 296.7a3.30 3.30 0 1 0 6.60 0a3.30 3.30 0 1 0 -6.60 0zM663.4 294.2a3.30 3.30 0 1 0 6.60 0a3.30 3.30 0 1 0 -6.60 0zM673.5 294.8a3.30 3.30 0 1 0 6.60 0a3.30 3.30 0 1 0 -6.60 0zM683.6 313.3a3.30 3.30 0 1 0 6.60 0a3.30 3.30 0 1 0 -6.60 0zM693.6 293.5a3.30 3.30 0 1 0 6.60 0a3.30 3.30 0 1 0 -6.60 0zM703.7 296.7a3.30 3.30 0 1 0 6.60 0a3.30 3.30 0 1 0 -6.60 0z"/>
<polyline stroke="#00bfbf" stroke-width="2.78" points="112.3,383.2 122.4,319.8 132.5,262.5 142.6,212.3 152.7,168.8 162.7,158.5 172.8,135.2 182.9,131.9 193.0,123.1 203.1,117.3 213.1,112.2 223.2,104.4 233.3,103.8 243.4,99.1 253.5,95.4 263.5,90.7 273.6,94.2 283.7,87.9 293.8,88.4 303.9,89.5 313.9,77.0 324.0,75.8 334.1,83.0 344.2,85.3 354.2,75.1 364.3,75.1 374.4,80.2 384.5,69.9 394.6,79.7 404.6,84.9 414.7,68.8 424.8,72.7 434.9,72.8 445.0,70.2 455.0,65.5 465.1,68.3 475.2,67.4 485.3,67.4 495.4,67.4 505.4,66.3 515.5,62.7 525.6,59.7 535.7,62.7 545.7,60.2 555.8,67.0 565.9,58.5 576.0,60.0 586.1,58.1 596.1,60.9 606.2,61.4 616.3,58.8 626.4,58.8 636.5,61.1 646.5,59.7 656.6,58.3 666.7,57.2 676.8,58.8 686.9,54.4 696.9,57.2 707.0,61.4"/>
<path stroke="#00bfbf" stroke-width="2.08" stroke-linecap="butt" d="M106.8 383.2h11.10M112.3 377.7v11.10M116.9 319.8h11.10M122.4 314.3v11.10M127.0 262.5h11.10M132.5 257.0v11.10M137.0 212.3h11.10M142.6 206.7v11.10M147.1 168.8h11.10M152.7 163.3v11.10M157.2 158.5h11.10M162.7 152.9v11.10M167.3 135.2h11.10M172.8 129.6v11.10M177.4 131.9h11.10M182.9 126.3v11.10M187.4 123.1h11.10M193.0 117.6v11.10M197.5 117.3h11.10M203.1 111.8v11.10M207.6 112.2h11.10M213.1 106.7v11.10M217.7 104.4h11.10M223.2 98.8v11.10M227.7 103.8h11.10M233.3 98.3v11.10M237.8 99.1h11.10M243.4 93.6v11.10M247.9 95.4h11.10M253.5 89.9v11.10M258.0 90.7h11.10M263.5 85.1v11.10M268.1 94.2h11.10M273.6 88.7v11.10M278.1 87.9h11.10M283.7 82.3v11.10M288.2 88.4h11.10M293.8 82.9v11.10M298.3 89.5h11.10M303.9 83.9v11.10M308.4 77.0h11.10M313.9 71.5v11.10M318.5 75.8h11.10M324.0 70.3v11.10M328.5 83.0h11.10M334.1 77.4v11.10M338.6 85.3h11.10M344.2 79.7v11.10M348.7 75.1h11.10M354.2 69.6v11.10M358.8 75.1h11.10M364.3 69.6v11.10M368.9 80.2h11.10M374.4 74.6v11.10M378.9 69.9h11.10M384.5 64.3v11.10M389.0 79.7h11.10M394.6 74.1v11.10M399.1 84.9h11.10M404.6 79.4v11.10M409.2 68.8h11.10M414.7 63.3v11.10M419.2 72.7h11.10M424.8 67.1v11.10M429.3 72.8h11.10M434.9 67.3v11.10M439.4 70.2h11.10M445.0 64.7v11.10M449.5 65.5h11.10M455.0 59.9v11.10M459.6 68.3h11.10M465.1 62.7v11.10M469.6 67.4h11.10M475.2 61.9v11.10M479.7 67.4h11.10M485.3 61.9v11.10M489.8 67.4h11.10M495.4 61.9v11.10M499.9 66.3h11.10M505.4 60.8v11.10M510.0 62.7h11.10M515.5 57.1v11.10M520.0 59.7h11.10M525.6 54.1v11.10M530.1 62.7h11.10M535.7 57.1v11.10M540.2 60.2h11.10M545.7 54.7v11.10M550.3 67.0h11.10M555.8 61.5v11.10M560.4 58.5h11.10M565.9 52.9v11.10M570.4 60.0h11.10M576.0 54.5v11.10M580.5 58.1h11.10M586.1 52.6v11.10M590.6 60.9h11.10M596.1 55.4v11.10M600.7 61.4h11.10M606.2 55.9v11.10M610.7 58.8h11.10M616.3 53.3v11.10M620.8 58.8h11.10M626.4 53.3v11.10M630.9 61.1h11.10M636.5 55.5v11.10M641.0 59.7h11.10M646.5 54.1v11.10M651.1 58.3h11.10M656.6 52.7v11.10M661.1 57.2h11.10M666.7 51.7v11.10M671.2 58.8h11.10M676.8 53.3v11.10M681.3 54.4h11.10M686.9 48.9v11.10M691.4 57.2h11.10M696.9 51.7v11.10M701.5 61.4h11.10M707.0 55.9v11.10"/>
<polyline stroke="#bf00bf" stroke-width="2.78" points="112.3,388.0 122.4,348.7 132.5,338.0 142.6,328.1 152.7,321.8 162.7,321.4 172.8,311.8 182.9,309.8 193.0,306.7 203.1,304.4 213.1,301.8 223.2,304.9 233.3,299.7 243.4,300.4 253.5,294.8 263.5,296.9 273.6,297.8 283.7,304.4 293.8,293.7 303.9,310.5 313.9,300.0 324.0,289.3 334.1,299.9 344.2,305.5 354.2,294.6 364.3,298.1 374.4,294.4 384.5,290.0 394.6,298.1 404.6,290.9 414.7,303.0 424.8,290.6 434.9,300.2 445.0,302.0 455.0,300.2 465.1,297.9 475.2,297.4 485.3,285.0 495.4,280.1 505.4,282.9 515.5,287.1 525.6,286.5 535.7,287.6 545.7,292.3 555.8,276.7 565.9,289.7 576.0,279.9 586.1,280.4 596.1,289.7 606.2,287.9 616.3,277.4 626.4,290.7 636.5,295.5 646.5,289.9 656.6,280.2 666.7,275.7 676.8,277.3 686.9,275.2 696.9,290.2 707.0,295.1"/>
<path fill="#bf00bf" stroke="none" d="M109.0 388.0a3.30 3.30 0 1 0 6.60 0a3.30 3.30 0 1 0 -6.60 0zM119.1 348.7a3.30 3.30 0 1 0 6.60 0a3.30 3.30 0 1 0 -6.60 0zM129.2 338.0a3.30 3.30 0 1 0 6.60 0a3.30 3.30 0 1 0 -6.60 0zM139.3 328.1a3.30 3.30 0 1 0 6.60 0a3.30 3.30 0 1 0 -6.60 0zM149.4 321.8a3.30 3.30 0 1 0 6.60 0a3.30 3.30 0 1 0 -6.60 0zM159.4 321.4a3.30 3.30 0 1 0 6.60 0a3.30 3.30 0 1 0 -6.60 0zM169.5 311.8a3.30 3.30 0 1 0 6.60 0a3.30 3.30 0 1 0 -6.60 0zM179.6 309.8a3.30 3.30 0 1 0 6.60 0a3.30 3.30 0 1 0 -6.60 0zM189.7 306.7a3.30 3.30 0 1 0 6.60 0a3.30 3.30 0 1 0 -6.60 0zM199.8 304.4a3.30 3.30 0 1 0 6.60 0a3.30 3.30 0 1 0 -6.60 0zM209.8 301.8a3.30 3.30 0 1 0 6.60 0a3.30 3.30 0 1 0 -6.60 0zM219.9 304.9a3.30 3.30 0 1 0 6.60 0a3.30 3.30 0 1 0 -6.60 0zM230.0 299.7a3.30 3.30 0 1 0 6.60 0a3.30 3.30 0 1 0 -6.60 0zM240.1 300.4a3.30 3.30 0 1 0 6.60 0a3.30 3.30 0 1 0 -6.60 0zM250.2 294.8a3.30 3.30 0 1 0 6.60 0a3.30 3.30 0 1 0 -6.60 0zM260.2 296.9a3.30 3.30 0 1 0 6.60 0a3.30 3.30 0 1 0 -6.60 0zM270.3 297.8a3.30 3.30 0 1 0 6.60 0a3.30 3.30 0 1 0 -6.60 0zM280.4 304.4a3.30 3.30 0 1 0 6.60 0a3.30 3.30 0 1 0 -6.60 0zM290.5 293.7a3.30 3.30 0 1 0 6.60 0a3.30 3.30 0 1 0 -6.60 0zM300.6 310.5a3.30 3.30 0 1 0 6.60 0a3.30 3.30 0 1 0 -6.60 0zM310.6 300.0a3.30 3.30 0 1 0 6.60 0a3.30 3.30 0 1 0 -6.60 0zM320.7 289.3a3.30 3.30 0 1 0 6.60 0a3.30 3.30 0 1 0 -6.60 0zM330.8 299.9a3.30 3.30 0 1 0 6.60 0a3.30 3.30 0 1 0 -6.60 0zM340.9 305.5a3.30 3.30 0 1 0 6.60 0a3.30 3.30 0 1 0 -6.60 0zM350.9 294.6a3.30 3.30 0 1 0 6.60 0a3.30 3.30 0 1 0 -6.60 0zM361.0 298.1a3.30 3.30 0 1 0 6.60 0a3.30 3.30 0 1 0 -6.60 0zM371.1 294.4a3.30 3.30 0 1 0 6.60 0a3.30 3.30 0 1 0 -6.60 0zM381.2 290.0a3.30 3.30 0 1 0 6.60 0a3.30 3.30 0 1 0 -6.60 0zM391.3 298.1a3.30 3.30 0 1 0 6.60 0a3.30 3.30 0 1 0 -6.60 0zM401.3 290.9a3.30 3.30 0 1 0 6.60 0a3.30 3.30 0 1 0 -6.60 0zM411.4 303.0a3.30 3.30 0 1 0 6.60 0a3.30 3.30 0 1 0 -6.60 0zM421.5 290.6a3.30 3.30 0 1 0 6.60 0a3.30 3.30 0 1 0 -6.60 0zM431.6 300.2a3.30 3.30 0 1 0 6.60 0a3.30 3.30 0 1 0 -6.60 0zM441.7 302.0a3.30 3.30 0 1 0 6.60 0a3.30 3.30 0 1 0 -6.60 0zM451.7 300.2a3.30 3.30 0 1 0 6.60 0a3.30 3.30 0 1 0 -6.60 0zM461.8 297.9a3.30 3.30 0 1 0 6.60 0a3.30 3.30 0 1 0 -6.60 0zM471.9 297.4a3.30 3.30 0 1 0 6.60 0a3.30 3.30 0 1 0 -6.60 0zM482.0 285.0a3.30 3.30 0 1 0 6.60 0a3.30 3.30 0 1 0 -6.60 0zM492.1 280.1a3.30 3.30 0 1 0 6.60 0a3.30 3.30 0 1 0 -6.60 0zM502.1 282.9a3.30 3.30 0 1 0 6.60 0a3.30 3.30 0 1 0 -6.60 0zM512.2 287.1a3.30 3.30 0 1 0 6.60 0a3.30 3.30 0 1 0 -6.60 0zM522.3 286.5a3.30 3.30 0 1 0 6.60 0a3.30 3.30 0 1 0 -6.60 0zM532.4 287.6a3.30 3.30 0 1 0 6.60 0a3.30 3.30 0 1 0 -6.60 0zM542.4 292.3a3.30 3.30 0 1 0 6.60 0a3.30 3.30 0 1 0 -6.60 0zM552.5 276.7a3.30 3.30 0 1 0 6.60 0a3.30 3.30 0 1 0 -6.60 0zM562.6 289.7a3.30 3.30 0 1 0 6.60 0a3.30 3.30 0 1 0 -6.60 0zM572.7 279.9a3.30 3.30 0 1 0 6.60 0a3.30 3.30 0 1 0 -6.60 0zM582.8 280.4a3.30 3.30 0 1 0 6.60 0a3.30 3.30 0 1 0 -6.60 0zM592.8 289.7a3.30 3.30 0 1 0 6.60 0a3.30 3.30 0 1 0 -6.60 0zM602.9 287.9a3.30 3.30 0 1 0 6.60 0a3.30 3.30 0 1 0 -6.60 0zM613.0 277.4a3.30 3.30 0 1 0 6.60 0a3.30 3.30 0 1 0 -6.60 0zM623.1 290.7a3.30 3.30 0 1 0 6.60 0a3.30 3.30 0 1 0 -6.60 0zM633.2 295.5a3.30 3.30 0 1 0 6.60 0a3.30 3.30 0 1 0 -6.60 0zM643.2 289.9a3.30 3.30 0 1 0 6.60 0a3.30 3.30 0 1 0 -6.60 0zM653.3 280.2a3.30 3.30 0 1 0 6.60 0a3.30 3.30 0 1 0 -6.60 0zM663.4 275.7a3.30 3.30 0 1 0 6.60 0a3.30 3.30 0 1 0 -6.60 0zM673.5 277.3a3.30 3.30 0 1 0 6.60 0a3.30 3.30 0 1 0 -6.60 0zM683.6 275.2a3.30 3.30 0 1 0 6.60 0a3.30 3.30 0 1 0 -6.60 0zM693.6 290.2a3.30 3.30 0 1 0 6.60 0a3.30 3.30 0 1 0 -6.60 0zM703.7 295.1a3.30 3.30 0 1 0 6.60 0a3.30 3.30 0 1 0 -6.60 0z"/>
<polyline stroke="#bf00bf" stroke-width="2.78" points="112.3,327.5 122.4,232.8 132.5,196.3 142.6,177.8 152.7,151.8 162.7,142.7 172.8,127.5 182.9,125.4 193.0,115.9 203.1,109.8 213.1,98.8 223.2,99.1 233.3,95.4 243.4,173.6 253.5,83.7 263.5,96.7 273.6,82.5 283.7,82.5 293.8,71.8 303.9,77.7 313.9,62.3 324.0,60.7 334.1,58.1 344.2,59.3 354.2,58.1 364.3,55.7 374.4,54.3 384.5,50.9 394.6,60.4 404.6,63.2 414.7,55.7 424.8,50.6 434.9,68.6 445.0,50.2 455.0,49.9 465.1,48.0 475.2,51.3 485.3,46.2 495.4,44.3 505.4,51.3 515.5,36.0 525.6,39.5 535.7,37.1 545.7,42.4 555.8,38.1 565.9,57.1 576.0,33.9 586.1,41.5 596.1,50.6 606.2,37.3 616.3,39.5 626.4,35.7 636.5,38.7 646.5,33.6 656.6,34.3 666.7,36.6 676.8,35.0 686.9,34.3 696.9,32.4 707.0,45.0"/>
<path stroke="#bf00bf" stroke-width="2.08" stroke-linecap="butt" d="M106.8 327.5h11.10M112.3 322.0v11.10M116.9 232.8h11.10M122.4 227.2v11.10M127.0 196.3h11.10M132.5 190.8v11.10M137.0 177.8h11.10M142.6 172.2v11.10M147.1 151.8h11.10M152.7 146.3v11.10M157.2 142.7h11.10M162.7 137.2v11.10M167.3 127.5h11.10M172.8 121.9v11.10M177.4 125.4h11.10M182.9 119.8v11.10M187.4 115.9h11.10M193.0 110.4v11.10M197.5 109.8h11.10M203.1 104.2v11.10M207.6 98.8h11.10M213.1 93.2v11.10M217.7 99.1h11.10M223.2 93.6v11.10M227.7 95.4h11.10M233.3 89.9v11.10M237.8 173.6h11.10M243.4 168.0v11.10M247.9 83.7h11.10M253.5 78.1v11.10M258.0 96.7h11.10M263.5 91.1v11.10M268.1 82.5h11.10M273.6 76.9v11.10M278.1 82.5h11.10M283.7 76.9v11.10M288.2 71.8h11.10M293.8 66.2v11.10M298.3 77.7h11.10M303.9 72.2v11.10M308.4 62.3h11.10M313.9 56.8v11.10M318.5 60.7h11.10M324.0 55.2v11.10M328.5 58.1h11.10M334.1 52.6v11.10M338.6 59.3h11.10M344.2 53.8v11.10M348.7 58.1h11.10M354.2 52.6v11.10M358.8 55.7h11.10M364.3 50.1v11.10M368.9 54.3h11.10M374.4 48.7v11.10M378.9 50.9h11.10M384.5 45.4v11.10M389.0 60.4h11.10M394.6 54.8v11.10M399.1 63.2h11.10M404.6 57.6v11.10M409.2 55.7h11.10M414.7 50.1v11.10M419.2 50.6h11.10M424.8 45.0v11.10M429.3 68.6h11.10M434.9 63.1v11.10M439.4 50.2h11.10M445.0 44.7v11.10M449.5 49.9h11.10M455.0 44.3v11.10M459.6 48.0h11.10M465.1 42.4v11.10M469.6 51.3h11.10M475.2 45.7v11.10M479.7 46.2h11.10M485.3 40.7v11.10M489.8 44.3h11.10M495.4 38.7v11.10M499.9 51.3h11.10M505.4 45.7v11.10M510.0 36.0h11.10M515.5 30.5v11.10M520.0 39.5h11.10M525.6 34.0v11.10M530.1 37.1h11.10M535.7 31.5v11.10M540.2 42.4h11.10M545.7 36.8v11.10M550.3 38.1h11.10M555.8 32.6v11.10M560.4 57.1h11.10M565.9 51.5v11.10M570.4 33.9h11.10M576.0 28.4v11.10M580.5 41.5h11.10M586.1 35.9v11.10M590.6 50.6h11.10M596.1 45.0v11.10M600.7 37.3h11.10M606.2 31.7v11.10M610.7 39.5h11.10M616.3 34.0v11.10M620.8 35.7h11.10M626.4 30.1v11.10M630.9 38.7h11.10M636.5 33.1v11.10M641.0 33.6h11.10M646.5 28.0v11.10M651.1 34.3h11.10M656.6 28.7v11.10M661.1 36.6h11.10M666.7 31.0v11.10M671.2 35.0h11.10M676.8 29.4v11.10M681.3 34.3h11.10M686.9 28.7v11.10M691.4 32.4h11.10M696.9 26.8v11.10M701.5 45.0h11.10M707.0 39.4v11.10"/>
</g>
<rect x="82.80" y="16.60" width="654.15" height="455.45" fill="none" stroke="#000" stroke-width="1.55"/>
<path d="M102.27 472.05v5.4M142.59 472.05v5.4M182.90 472.05v5.4M223.22 472.05v5.4M263.53 472.05v5.4M303.85 472.05v5.4M344.17 472.05v5.4M384.48 472.05v5.4M424.80 472.05v5.4M465.11 472.05v5.4M505.43 472.05v5.4M545.75 472.05v5.4M586.06 472.05v5.4M626.38 472.05v5.4M666.69 472.05v5.4M707.01 472.05v5.4M82.80 472.05h-5.4M82.80 437.02h-5.4M82.80 401.98h-5.4M82.80 366.95h-5.4M82.80 331.91h-5.4M82.80 296.88h-5.4M82.80 261.84h-5.4M82.80 226.81h-5.4M82.80 191.77h-5.4M82.80 156.74h-5.4M82.80 121.70h-5.4M82.80 86.67h-5.4M82.80 51.63h-5.4M82.80 16.60h-5.4" stroke="#000" stroke-width="1.5" fill="none"/>
<text x="102.27" y="497.3" text-anchor="middle">0</text>
<text x="142.59" y="497.3" text-anchor="middle">20</text>
<text x="182.90" y="497.3" text-anchor="middle">40</text>
<text x="223.22" y="497.3" text-anchor="middle">60</text>
<text x="263.53" y="497.3" text-anchor="middle">80</text>
<text x="303.85" y="497.3" text-anchor="middle">100</text>
<text x="344.17" y="497.3" text-anchor="middle">120</text>
<text x="384.48" y="497.3" text-anchor="middle">140</text>
<text x="424.80" y="497.3" text-anchor="middle">160</text>
<text x="465.11" y="497.3" text-anchor="middle">180</text>
<text x="505.43" y="497.3" text-anchor="middle">200</text>
<text x="545.75" y="497.3" text-anchor="middle">220</text>
<text x="586.06" y="497.3" text-anchor="middle">240</text>
<text x="626.38" y="497.3" text-anchor="middle">260</text>
<text x="666.69" y="497.3" text-anchor="middle">280</text>
<text x="707.01" y="497.3" text-anchor="middle">300</text>
<text x="71.2" y="478.55" text-anchor="end">24.4</text>
<text x="71.2" y="443.52" text-anchor="end">24.6</text>
<text x="71.2" y="408.48" text-anchor="end">24.8</text>
<text x="71.2" y="373.45" text-anchor="end">25.0</text>
<text x="71.2" y="338.41" text-anchor="end">25.2</text>
<text x="71.2" y="303.38" text-anchor="end">25.4</text>
<text x="71.2" y="268.34" text-anchor="end">25.6</text>
<text x="71.2" y="233.31" text-anchor="end">25.8</text>
<text x="71.2" y="198.27" text-anchor="end">26.0</text>
<text x="71.2" y="163.24" text-anchor="end">26.2</text>
<text x="71.2" y="128.20" text-anchor="end">26.4</text>
<text x="71.2" y="93.17" text-anchor="end">26.6</text>
<text x="71.2" y="58.13" text-anchor="end">26.8</text>
<text x="71.2" y="23.10" text-anchor="end">27.0</text>
<text x="409.88" y="518.8" text-anchor="middle">Iteration (K)</text>
<text transform="translate(24.4 244.33) rotate(-90)" text-anchor="middle">PSNR (dB)</text>
<rect x="207.8" y="360.1" width="521.0" height="103.3" rx="3.3" ry="3.3" fill="#fff" stroke="#c8c8c8" stroke-width="1.6"/>
<path d="M214.3 374.0h33.4" stroke="#ff0000" stroke-width="2.78" stroke-linecap="square" fill="none"/>
<circle cx="231.0" cy="374.0" r="3.30" fill="#ff0000"/>
<text x="261.0" y="380.1">EDSR</text>
<path d="M214.3 398.6h33.4" stroke="#ff0000" stroke-width="2.78" stroke-linecap="square" fill="none"/>
<path d="M225.4 398.6h11.10M231.0 393.1v11.10" stroke="#ff0000" stroke-width="2.08" fill="none"/>
<text x="261.0" y="404.7">EDSR-VSR</text>
<path d="M214.3 423.1h33.4" stroke="#008000" stroke-width="2.78" stroke-linecap="square" fill="none"/>
<circle cx="231.0" cy="423.1" r="3.30" fill="#008000"/>
<text x="261.0" y="429.2">SRResNet</text>
<path d="M214.3 447.6h33.4" stroke="#008000" stroke-width="2.78" stroke-linecap="square" fill="none"/>
<path d="M225.4 447.6h11.10M231.0 442.1v11.10" stroke="#008000" stroke-width="2.08" fill="none"/>
<text x="261.0" y="453.7">SRResNet-VSR</text>
<path d="M414.4 374.0h33.4" stroke="#0000ff" stroke-width="2.78" stroke-linecap="square" fill="none"/>
<circle cx="431.1" cy="374.0" r="3.30" fill="#0000ff"/>
<text x="461.5" y="380.1">RCAN</text>
<path d="M414.4 398.6h33.4" stroke="#0000ff" stroke-width="2.78" stroke-linecap="square" fill="none"/>
<path d="M425.5 398.6h11.10M431.1 393.1v11.10" stroke="#0000ff" stroke-width="2.08" fill="none"/>
<text x="461.5" y="404.7">RCAN-VSR</text>
<path d="M414.4 423.1h33.4" stroke="#00bfbf" stroke-width="2.78" stroke-linecap="square" fill="none"/>
<circle cx="431.1" cy="423.1" r="3.30" fill="#00bfbf"/>
<text x="461.5" y="429.2">RDN</text>
<path d="M580.0 374.0h33.4" stroke="#00bfbf" stroke-width="2.78" stroke-linecap="square" fill="none"/>
<path d="M591.2 374.0h11.10M596.7 368.4v11.10" stroke="#00bfbf" stroke-width="2.08" fill="none"/>
<text x="627.2" y="380.1">RDN-VSR</text>
<path d="M580.0 398.6h33.4" stroke="#bf00bf" stroke-width="2.78" stroke-linecap="square" fill="none"/>
<circle cx="596.7" cy="398.6" r="3.30" fill="#bf00bf"/>
<text x="627.2" y="404.7">SwinIR</text>
<path d="M580.0 423.1h33.4" stroke="#bf00bf" stroke-width="2.78" stroke-linecap="square" fill="none"/>
<path d="M591.2 423.1h11.10M596.7 417.6v11.10" stroke="#bf00bf" stroke-width="2.08" fill="none"/>
<text x="627.2" y="429.2">SwinIR-VSR</text>
</svg></body></html>
